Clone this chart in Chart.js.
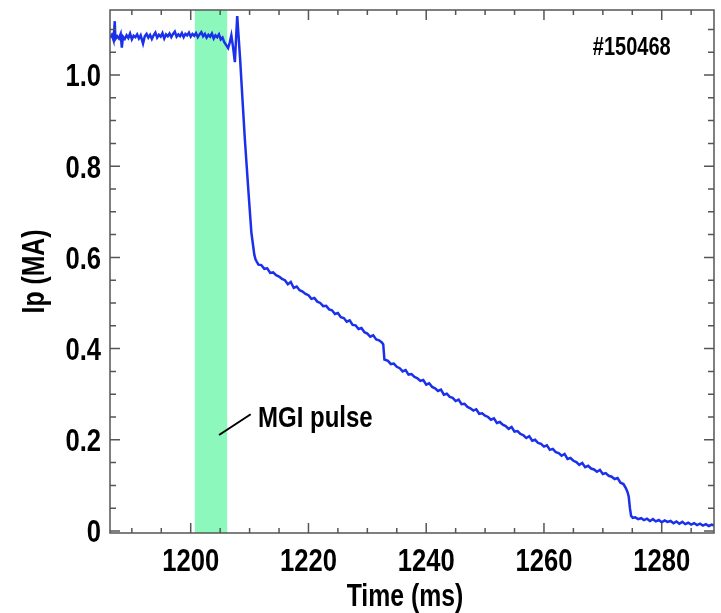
<!DOCTYPE html>
<html>
<head>
<meta charset="utf-8">
<script src="https://cdn.jsdelivr.net/npm/chart.js@4.4.0/dist/chart.umd.min.js"></script>
<style>
  html, body { margin: 0; background: #fff; }
</style>
</head>
<body>
<canvas id="ip-chart" width="721" height="613"></canvas>
<script>
// Ip trace of shot #150468 as [time ms, Ip MA]
const flatTop = [
  [1186.3,1.082],[1186.6,1.088],[1186.9,1.076],[1187.1,1.118],[1187.2,1.079],[1187.5,1.085],
  [1187.8,1.080],[1188.1,1.090],[1188.3,1.060],[1188.5,1.084],[1188.8,1.079],[1189.1,1.087],
  [1189.4,1.081],[1189.7,1.091],[1190.0,1.078],[1190.3,1.086],[1190.6,1.083],[1190.9,1.089],
  [1191.2,1.080],[1191.5,1.087],[1191.9,1.069],[1192.2,1.085],[1192.5,1.090],[1192.8,1.082],
  [1193.1,1.088],[1193.4,1.079],[1193.7,1.087],[1194.0,1.093],[1194.3,1.082],[1194.6,1.088],
  [1194.9,1.084],[1195.2,1.092],[1195.5,1.080],[1195.8,1.089],[1196.1,1.085],[1196.4,1.091],
  [1196.7,1.083],[1197.0,1.090],[1197.3,1.095],[1197.6,1.084],[1197.9,1.089],[1198.2,1.085],
  [1198.5,1.092],[1198.8,1.083],[1199.1,1.090],[1199.4,1.087],[1199.7,1.093],[1200.0,1.084],
  [1200.3,1.090],[1200.6,1.086],[1200.9,1.092],[1201.2,1.083],[1201.5,1.089],[1201.8,1.094],
  [1202.1,1.085],[1202.4,1.090],[1202.7,1.082],[1203.0,1.088],[1203.3,1.084],[1203.6,1.091],
  [1203.9,1.080],[1204.2,1.087],[1204.5,1.083],[1204.8,1.089],[1205.1,1.078],[1205.4,1.082],
  [1205.7,1.072],[1206.0,1.066]
];
const quench = [
  [1206.35,1.059],[1206.6,1.070],[1206.9,1.087],[1207.2,1.060],[1207.5,1.028],[1207.7,1.080],
  [1207.9,1.129],[1208.1,1.090],[1208.4,1.033],[1208.8,0.945],[1209.2,0.858],[1209.8,0.745],
  [1210.3,0.655],[1210.8,0.606],[1211.0,0.596],[1211.2,0.591],[1211.5,0.584]
];
const plateau1 = [
  [1212.0,0.583],[1212.5,0.575],[1213.0,0.576],[1213.5,0.566],[1214.0,0.567],[1214.5,0.561],
  [1215.0,0.558],[1215.5,0.553],[1216.0,0.550],[1216.5,0.541],[1217.0,0.546],[1217.5,0.533],
  [1218.0,0.536],[1218.5,0.528],[1219.0,0.525],[1219.5,0.520],[1220.0,0.517],[1220.5,0.509],
  [1221.0,0.511],[1221.5,0.503],[1222.0,0.500],[1222.5,0.493],[1223.0,0.494],[1223.5,0.486],
  [1224.0,0.484],[1224.5,0.476],[1225.0,0.478],[1225.5,0.469],[1226.0,0.467],[1226.5,0.459],
  [1227.0,0.462],[1227.5,0.452],[1228.0,0.451],[1228.5,0.443],[1229.0,0.445],[1229.5,0.436],
  [1230.0,0.433],[1230.5,0.426],[1231.0,0.429],[1231.5,0.420],[1232.0,0.418],[1232.5,0.413],
  [1232.7,0.409],[1232.9,0.376]
];
const plateau2 = [
  [1233.5,0.373],[1234.0,0.366],[1234.5,0.367],[1235.0,0.360],[1235.5,0.357],[1236.0,0.350],
  [1236.5,0.353],[1237.0,0.343],[1237.5,0.344],[1238.0,0.338],[1238.5,0.335],[1239.0,0.329],
  [1239.5,0.331],[1240.0,0.321],[1240.5,0.324],[1241.0,0.316],[1241.5,0.313],[1242.0,0.307],
  [1242.5,0.310],[1243.0,0.299],[1243.5,0.301],[1244.0,0.294],[1244.5,0.292],[1245.0,0.285],
  [1245.5,0.288],[1246.0,0.278],[1246.5,0.279],[1247.0,0.272],[1247.5,0.269],[1248.0,0.264],
  [1248.5,0.267],[1249.0,0.257],[1249.5,0.258],[1250.0,0.253],[1250.5,0.250],[1251.0,0.244],
  [1251.5,0.247],[1252.0,0.237],[1252.5,0.239],[1253.0,0.233],[1253.5,0.230],[1254.0,0.224],
  [1254.5,0.228],[1255.0,0.218],[1255.5,0.219],[1256.0,0.213],[1256.5,0.210],[1257.0,0.204],
  [1257.5,0.208],[1258.0,0.198],[1258.5,0.200],[1259.0,0.193],[1259.5,0.191],[1260.0,0.185],
  [1260.5,0.188],[1261.0,0.178],[1261.5,0.180],[1262.0,0.173],[1262.5,0.171],[1263.0,0.165],
  [1263.5,0.169],[1264.0,0.158],[1264.5,0.160],[1265.0,0.154],[1265.5,0.151],[1266.0,0.145],
  [1266.5,0.149],[1267.0,0.140],[1267.5,0.143],[1268.0,0.137],[1268.5,0.135],[1269.0,0.130],
  [1269.5,0.134],[1270.0,0.125],[1270.5,0.127],[1271.0,0.121],[1271.5,0.119],[1272.0,0.114],
  [1272.5,0.116],[1273.0,0.106],[1273.5,0.103],[1273.9,0.094],[1274.2,0.085],[1274.4,0.075],
  [1274.6,0.050],[1274.8,0.033],[1275.1,0.029]
];
const tail = [
  [1275.5,0.030],[1276.0,0.026],[1276.5,0.028],[1277.0,0.024],[1277.5,0.027],[1278.0,0.022],
  [1278.5,0.026],[1279.0,0.021],[1279.5,0.024],[1280.0,0.019],[1280.5,0.023],[1281.0,0.020],
  [1281.5,0.022],[1282.0,0.017],[1282.5,0.021],[1283.0,0.016],[1283.5,0.020],[1284.0,0.015],
  [1284.5,0.018],[1285.0,0.014],[1285.5,0.017],[1286.0,0.013],[1286.5,0.016],[1287.0,0.012],
  [1287.5,0.015],[1288.0,0.011],[1288.5,0.014],[1288.9,0.012]
];

// MGI pulse window (ms) and the pointer from band to label
const pulseWindow = [1200.7, 1206.2];
const pointer = [[1204.81, 0.2105], [1210.19, 0.256]];
const pulseLabel = 'MGI pulse';
const shotLabel = '#150468';

// axis ranges and ticks
const xRange = [1186.29, 1288.88];
const yRange = [-0.0044, 1.1425];
const xMajorTicks = [1200, 1220, 1240, 1260, 1280];
const yMajorTicks = [0, 0.2, 0.4, 0.6, 0.8, 1.0];
const yTickLabels = ['0', '0.2', '0.4', '0.6', '0.8', '1.0'];
const xMinorStep = 5;
const yMinorStep = 0.05;

const FONT = "'Liberation Sans', Arial, sans-serif";
const SQUEEZE = 0.8;   // the original uses a narrow face
const trace = [...flatTop, ...quench, ...plateau1, ...plateau2, ...tail].map(([x, y]) => ({ x, y }));

function isMajor(list, v) {
  return list.some(m => Math.abs(m - v) < 1e-6);
}

function narrowText(ctx, text, x, y, size, align, rot) {
  ctx.save();
  ctx.translate(x, y);
  if (rot) ctx.rotate(rot);
  ctx.scale(SQUEEZE, 1);
  ctx.font = 'bold ' + size + 'px ' + FONT;
  ctx.textAlign = align;
  ctx.textBaseline = 'alphabetic';
  ctx.fillStyle = '#000';
  ctx.fillText(text, 0, 0);
  ctx.restore();
}

// green band behind the trace
const pulseBand = {
  id: 'pulseBand',
  beforeDatasetsDraw(chart) {
    const { ctx, chartArea, scales } = chart;
    const x0 = scales.x.getPixelForValue(pulseWindow[0]);
    const x1 = scales.x.getPixelForValue(pulseWindow[1]);
    ctx.save();
    ctx.fillStyle = '#8df8bc';
    ctx.fillRect(x0, chartArea.top, x1 - x0, chartArea.bottom - chartArea.top);
    ctx.restore();
  }
};

// frame with inward ticks on all four sides, tick labels, titles and notes
const frameAndNotes = {
  id: 'frameAndNotes',
  afterDatasetsDraw(chart) {
    const { ctx, chartArea: a, scales } = chart;
    const x = scales.x, y = scales.y;
    ctx.save();
    ctx.strokeStyle = '#555';
    ctx.lineWidth = 1.5;
    ctx.strokeRect(a.left, a.top, a.right - a.left, a.bottom - a.top);
    ctx.beginPath();
    x.ticks.forEach(t => {
      const px = x.getPixelForValue(t.value);
      const len = isMajor(xMajorTicks, t.value) ? 10 : 5;
      ctx.moveTo(px, a.bottom); ctx.lineTo(px, a.bottom - len);
      ctx.moveTo(px, a.top); ctx.lineTo(px, a.top + len);
    });
    y.ticks.forEach(t => {
      const py = y.getPixelForValue(t.value);
      const len = isMajor(yMajorTicks, t.value) ? 10 : 6;
      ctx.moveTo(a.left, py); ctx.lineTo(a.left + len, py);
      ctx.moveTo(a.right, py); ctx.lineTo(a.right - len, py);
    });
    ctx.stroke();

    // tick labels
    xMajorTicks.forEach(v => narrowText(ctx, String(v), x.getPixelForValue(v), a.bottom + 38, 32, 'center'));
    yMajorTicks.forEach((v, i) => narrowText(ctx, yTickLabels[i], a.left - 9, y.getPixelForValue(v) + 11.5, 32, 'right'));

    // axis titles
    narrowText(ctx, 'Time (ms)', 405, 606, 31, 'center');
    narrowText(ctx, 'Ip (MA)', 44, (a.top + a.bottom) / 2, 31, 'center', -Math.PI / 2);

    // annotation pointer + labels
    ctx.strokeStyle = '#000';
    ctx.lineWidth = 2;
    ctx.beginPath();
    ctx.moveTo(x.getPixelForValue(pointer[0][0]), y.getPixelForValue(pointer[0][1]));
    ctx.lineTo(x.getPixelForValue(pointer[1][0]), y.getPixelForValue(pointer[1][1]));
    ctx.stroke();
    narrowText(ctx, pulseLabel, x.getPixelForValue(1211.43), y.getPixelForValue(0.2282), 30, 'left');
    narrowText(ctx, shotLabel, x.getPixelForValue(1268.3), y.getPixelForValue(1.044), 25, 'left');
    ctx.restore();
  }
};

const ctx = document.getElementById('ip-chart').getContext('2d');
new Chart(ctx, {
  type: 'line',
  data: {
    datasets: [{
      data: trace,
      borderColor: '#1a30ea',
      borderWidth: 2.5,
      pointRadius: 0,
      tension: 0,
      fill: false
    }]
  },
  options: {
    responsive: false,
    animation: false,
    layout: { padding: { top: 10, right: 7, left: 0, bottom: 0 } },
    plugins: { legend: { display: false }, tooltip: { enabled: false } },
    scales: {
      x: {
        type: 'linear',
        min: xRange[0],
        max: xRange[1],
        grid: { display: false, drawTicks: false },
        border: { display: false },
        afterBuildTicks(scale) {
          const ticks = [];
          for (let v = Math.ceil(xRange[0] / xMinorStep) * xMinorStep; v <= xRange[1]; v += xMinorStep) ticks.push({ value: v });
          scale.ticks = ticks;
        },
        afterFit(scale) { scale.height = 80; },
        ticks: { display: false }
      },
      y: {
        type: 'linear',
        min: yRange[0],
        max: yRange[1],
        grid: { display: false, drawTicks: false },
        border: { display: false },
        afterBuildTicks(scale) {
          const ticks = [];
          for (let i = 0; i * yMinorStep <= yRange[1]; i++) ticks.push({ value: +(i * yMinorStep).toFixed(2) });
          scale.ticks = ticks;
        },
        afterFit(scale) { scale.width = 110; },
        ticks: { display: false }
      }
    }
  },
  plugins: [pulseBand, frameAndNotes]
});
</script>
</body>
</html>
